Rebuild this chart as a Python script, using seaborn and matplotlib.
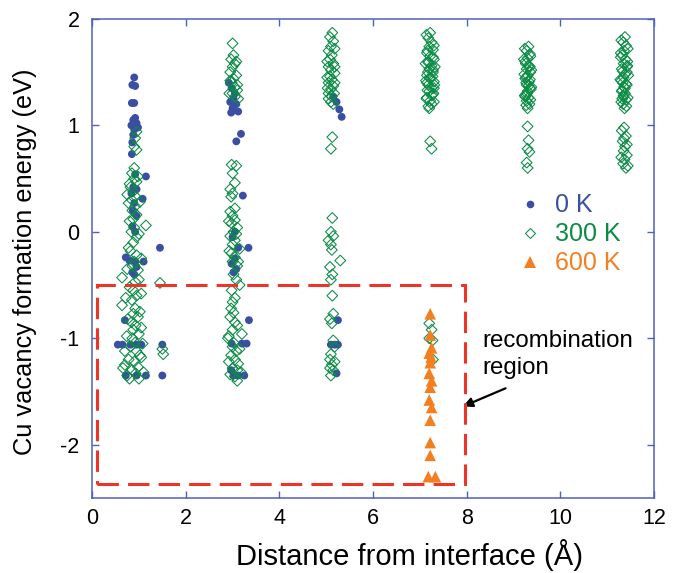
import pandas as pd
import matplotlib
matplotlib.use("Agg")
import matplotlib.pyplot as plt
import seaborn as sns
from matplotlib.lines import Line2D
from matplotlib.patches import Rectangle

# ---- data ----
# 0 K (filled dots)
x_0k = [0.90, 0.86, 0.92, 0.85, 0.90, 0.92, 0.88, 0.95, 0.84, 0.98, 0.90, 0.88, 0.86,
        0.85, 0.92, 1.15, 0.88, 0.95, 0.84, 1.08, 0.90, 0.87, 0.95, 0.86, 0.92, 1.45,
        0.72, 0.80, 0.92, 1.10, 0.95, 0.86, 0.90, 0.70, 0.55, 0.65, 0.82, 0.95, 1.05,
        1.50, 0.72, 0.95, 1.15, 1.50,
        2.92, 2.98, 3.05, 3.02, 2.95, 3.08, 3.00, 3.12, 2.97, 3.18, 3.08, 3.22, 3.05,
        3.00, 3.12, 3.34, 3.05, 2.98, 3.02, 3.08, 3.35, 2.98, 3.20, 3.30, 2.97, 3.02,
        3.12, 3.25,
        5.15, 5.22, 5.28, 5.33, 5.25, 5.10, 5.18, 5.25, 5.22]
e_0k = [1.45, 1.38, 1.37, 1.21, 1.21, 1.07, 1.05, 1.02, 1.00, 0.98, 0.96, 0.91, 0.84,
        0.73, 0.54, 0.52, 0.42, 0.40, 0.36, 0.31, 0.27, 0.20, 0.15, 0.05, 0.00, -0.15,
        -0.24, -0.27, -0.28, -0.28, -0.33, -0.38, -0.40, -0.83, -1.06, -1.06, -1.06, -1.06, -1.06,
        -1.06, -1.35, -1.35, -1.35, -1.35,
        1.40, 1.35, 1.30, 1.25, 1.22, 1.20, 1.16, 1.13, 1.12, 0.92, 0.85, 0.34, 0.00,
        -0.05, -0.15, -0.15, -0.25, -0.30, -0.38, -0.35, -0.83, -1.05, -1.05, -1.05, -1.30, -1.35,
        -1.35, -1.35,
        1.27, 1.22, 1.15, 1.08, -0.83, -1.06, -1.06, -1.06, -1.33]

# 300 K (open diamonds)
x_300k = [0.95, 0.92, 0.90, 0.95, 0.85, 0.90, 0.95, 0.82, 0.88, 0.93, 0.85, 0.78, 0.92,
          0.86, 0.95, 0.88, 1.15, 0.90, 0.84, 0.95, 0.88, 0.82, 0.95, 0.90, 0.86, 0.98,
          0.64, 1.45, 0.92, 0.88, 0.95, 0.85, 0.64, 0.92, 0.88, 0.98, 0.84, 0.93, 0.88,
          1.00, 0.86, 0.92, 0.82, 1.50, 1.52, 0.95, 1.02, 0.78, 0.90, 0.70, 0.98, 0.85,
          0.93, 0.80,
          3.00, 3.02, 2.97, 3.05, 3.00, 2.95, 3.08, 3.02, 2.98, 3.05, 3.10, 3.00, 3.05,
          2.98, 3.08, 3.00, 3.05, 2.95, 3.00, 2.97, 2.95, 3.00, 3.05, 2.98, 3.10, 3.02,
          2.95, 3.05, 3.00, 3.15, 2.98, 3.05, 3.00, 3.10, 3.02, 3.08, 3.15, 2.98, 3.05,
          3.00, 2.97, 3.02, 2.95, 3.05, 3.10, 3.00, 3.20, 2.90, 3.02, 3.00, 3.08, 2.97,
          3.05, 3.12, 3.00, 3.18, 3.05, 3.10,
          5.13, 5.08, 5.15, 5.10, 5.05, 5.12, 5.08, 5.15, 5.05, 5.10, 5.18, 5.08, 5.12,
          5.05, 5.15, 5.10, 5.05, 5.12, 5.10, 5.13, 5.10, 5.13, 5.10, 5.15, 5.05, 5.10,
          5.12, 5.30, 5.08, 5.13, 5.10, 5.13, 5.15, 5.08, 5.12, 5.15, 5.18, 5.10, 5.08,
          5.12, 5.15, 5.10,
          7.22, 7.18, 7.25, 7.20, 7.28, 7.15, 7.22, 7.30, 7.18, 7.25, 7.20, 7.28, 7.15,
          7.22, 7.30, 7.18, 7.25, 7.20, 7.27, 7.15, 7.22, 7.25, 7.20, 7.18, 7.28, 7.22,
          7.15, 7.30, 7.25, 7.22, 7.25, 7.20, 7.25, 7.20, 7.28, 7.27,
          9.32, 9.28, 9.35, 9.30, 9.25, 9.33, 9.28, 9.36, 9.30, 9.25, 9.33, 9.28, 9.35,
          9.30, 9.26, 9.32, 9.28, 9.34, 9.30, 9.35, 9.27, 9.32, 9.29, 9.30, 9.32, 9.30,
          9.34, 9.28, 9.30,
          11.38, 11.34, 11.40, 11.36, 11.32, 11.39, 11.35, 11.42, 11.33, 11.38, 11.35, 11.30,
          11.40, 11.36, 11.32, 11.38, 11.35, 11.40, 11.34, 11.37, 11.42, 11.33, 11.38, 11.35,
          11.36, 11.40, 11.33, 11.38, 11.35, 11.42, 11.37, 11.34, 11.40, 11.36]
e_300k = [0.94, 0.88, 0.80, 0.77, 0.55, 0.50, 0.47, 0.42, 0.38, 0.33, 0.30, 0.27, 0.24,
          0.20, 0.16, 0.12, 0.06, 0.04, 0.00, -0.05, -0.10, -0.18, -0.22, -0.28, -0.32, -0.36,
          -0.43, -0.48, -0.47, -0.55, -0.60, -0.64, -0.69, -0.72, -0.77, -0.80, -0.85, -0.88, -0.92,
          -0.96, -1.00, -1.04, -1.08, -1.10, -1.15, -1.12, -1.16, -1.20, -1.22, -1.25, -1.27, -1.30,
          -1.33, -1.38,
          1.77, 1.66, 1.62, 1.58, 1.55, 1.50, 1.47, 1.44, 1.40, 1.36, 1.33, 1.30, 1.27,
          0.63, 0.62, 0.55, 0.46, 0.40, 0.36, 0.33, 0.19, 0.15, 0.11, 0.08, 0.04, 0.00,
          -0.04, -0.08, -0.12, -0.16, -0.20, -0.24, -0.28, -0.32, -0.40, -0.45, -0.50, -0.55, -0.62,
          -0.66, -0.72, -0.76, -0.80, -0.85, -0.88, -0.92, -0.96, -1.00, -1.04, -1.08, -1.12, -1.16,
          -1.20, -1.24, -1.28, -1.32, -1.36, -1.40,
          1.87, 1.83, 1.79, 1.74, 1.70, 1.66, 1.62, 1.58, 1.55, 1.52, 1.49, 1.46, 1.43,
          1.40, 1.37, 1.34, 1.30, 1.27, 1.22, 0.89, 0.78, 0.13, 0.00, -0.04, -0.08, -0.12,
          -0.17, -0.27, -0.33, -0.40, -0.45, -0.60, -0.77, -0.82, -0.86, -1.02, -1.08, -1.15, -1.20,
          -1.25, -1.30, -1.35,
          1.87, 1.82, 1.78, 1.74, 1.71, 1.68, 1.65, 1.62, 1.59, 1.56, 1.53, 1.50, 1.47,
          1.44, 1.41, 1.38, 1.35, 1.32, 1.29, 1.26, 1.23, 1.20, 1.16, 1.60, 1.52, 1.45,
          1.40, 1.35, 1.28, 0.85, 0.78, -0.86, -0.92, -1.00, -1.20, -1.02,
          1.74, 1.70, 1.67, 1.63, 1.60, 1.56, 1.53, 1.50, 1.47, 1.44, 1.41, 1.38, 1.35,
          1.32, 1.29, 1.26, 1.23, 1.20, 1.16, 1.55, 1.45, 1.37, 1.30, 0.99, 0.86, 0.78,
          0.75, 0.65, 0.60,
          1.83, 1.78, 1.75, 1.70, 1.66, 1.62, 1.58, 1.55, 1.51, 1.48, 1.45, 1.42, 1.39,
          1.36, 1.33, 1.30, 1.27, 1.24, 1.20, 1.16, 1.50, 1.40, 1.35, 1.28, 0.98, 0.90,
          0.85, 0.80, 0.76, 0.72, 0.68, 0.64, 0.60, 0.88]

# 300 K, further points in the crowded clusters
x_300k_more = [0.75, 1.02, 0.80, 1.00, 0.78, 1.05, 0.75, 1.00, 0.80, 1.05, 0.72, 1.02, 0.76,
               1.05, 0.74, 1.08, 0.70, 1.05, 0.66, 1.10, 0.75, 1.00, 0.90, 0.98, 0.80,
               3.08, 2.95, 3.10, 2.93, 3.12, 3.05, 2.92, 3.08, 2.93, 3.12, 2.92, 3.15, 2.92,
               3.10, 2.95,
               5.18, 5.02, 5.18, 5.02, 5.18, 5.03, 5.17, 5.05, 5.15, 5.08, 5.18,
               7.14, 7.30, 7.16, 7.28, 7.12, 7.32, 7.17, 7.27, 7.13, 7.31, 7.16, 7.29, 7.14,
               7.30, 7.18,
               9.24, 9.36, 9.26, 9.38, 9.23, 9.35, 9.27, 9.37, 9.24, 9.36, 9.27, 9.22, 9.38,
               9.25,
               11.30, 11.44, 11.29, 11.43, 11.31, 11.45, 11.28, 11.42, 11.31, 11.44, 11.30,
               11.41, 11.29, 11.43, 11.32, 11.31, 11.42, 11.30, 11.44]
e_300k_more = [0.35, 0.28, 0.10, -0.02, -0.15, -0.25, -0.35, -0.45, -0.52, -0.58, -0.62, -0.75,
               -0.82, -0.90, -0.98, -1.05, -1.12, -1.18, -1.28, -1.32, -1.35, -1.38, 0.60, 0.52,
               0.45,
               1.60, 1.42, 1.38, 1.30, 1.25, 0.22, 0.10, -0.02, -0.18, -0.28, -0.98, -1.10, -1.22,
               -1.30, -1.34,
               1.72, 1.60, 1.55, 1.45, 1.40, 1.35, 1.30, 1.25, 1.20, -1.28, -1.22,
               1.85, 1.75, 1.70, 1.64, 1.58, 1.55, 1.50, 1.46, 1.42, 1.38, 1.33, 1.30, 1.25,
               1.22, 1.18,
               1.72, 1.65, 1.58, 1.52, 1.48, 1.43, 1.40, 1.34, 1.28, 1.24, 1.19, 1.62, 1.36,
               1.27,
               1.80, 1.72, 1.68, 1.60, 1.53, 1.47, 1.43, 1.38, 1.32, 1.26, 1.22, 1.18, 1.64,
               1.56, 1.25, 0.95, 0.82, 0.70, 0.62]

# 600 K (filled triangles)
x_600k = [7.22, 7.22, 7.25, 7.20, 7.24, 7.22, 7.20, 7.25, 7.22, 7.20, 7.25, 7.22, 7.22,
          7.22, 7.18, 7.33]
e_600k = [-0.77, -0.97, -1.09, -1.14, -1.18, -1.23, -1.33, -1.40, -1.46, -1.58, -1.65, -1.77,
          -1.98, -2.10, -2.30, -2.30]

# recombination region box (x0, y0, x1, y1)
box = (0.1, -2.37, 7.97, -0.5)

BLUE = "#3a4fa3"
GREEN = "#0a8c44"
ORANGE = "#f47f20"
RED = "#ee3327"
AXIS = "#4d62b8"

df0 = pd.DataFrame({"d": x_0k, "E": e_0k})
df300 = pd.DataFrame({"d": x_300k + x_300k_more, "E": e_300k + e_300k_more})
df600 = pd.DataFrame({"d": x_600k, "E": e_600k})

sns.set_style("ticks")
plt.rcParams["font.family"] = ["Liberation Sans", "DejaVu Sans"]
plt.rcParams["axes.unicode_minus"] = False
plt.rcParams["text.color"] = "black"
plt.rcParams["axes.labelcolor"] = "black"

fig = plt.figure(figsize=(6.82, 5.73), dpi=100)
ax = fig.add_axes([0.135, 0.131, 0.824, 0.836])

sns.scatterplot(data=df0, x="d", y="E", ax=ax, color=BLUE, marker="o",
                s=32, edgecolor="none", zorder=3)
sns.scatterplot(data=df300, x="d", y="E", ax=ax, color=GREEN, marker="D",
                s=30, facecolor="none", edgecolor=GREEN, linewidth=0.75, zorder=4)
sns.scatterplot(data=df600, x="d", y="E", ax=ax, color=ORANGE, marker="^",
                s=70, edgecolor="none", zorder=5)

ax.add_patch(Rectangle((box[0], box[1]), box[2] - box[0], box[3] - box[1],
                       fill=False, edgecolor=RED, linewidth=2.2,
                       linestyle=(0, (7, 3)), zorder=6))

ax.annotate("", xy=(7.92, -1.64), xytext=(8.83, -1.47),
            arrowprops=dict(arrowstyle="-|>", color="black", lw=1.6,
                            mutation_scale=14, shrinkA=0, shrinkB=0))
ax.text(8.33, -1.15, "recombination\nregion", fontsize=17.3, va="center",
        ha="left", linespacing=1.3)

ax.set_xlim(0, 12)
ax.set_ylim(-2.5, 2)
ax.set_xticks([0, 2, 4, 6, 8, 10, 12])
ax.set_yticks([-2, -1, 0, 1, 2])
ax.set_xlabel("Distance from interface (Å)", fontsize=21)
ax.set_ylabel("Cu vacancy formation energy (eV)", fontsize=18.3)
ax.xaxis.set_label_coords(0.564, -0.085)
ax.yaxis.set_label_coords(-0.098, 0.494)
ax.tick_params(direction="in", top=True, right=True, length=5, width=1,
               color=AXIS, labelsize=15.5, labelcolor="black")
ax.tick_params(axis="y", pad=9)
ax.tick_params(axis="x", pad=7)
for sp in ax.spines.values():
    sp.set_color(AXIS)
    sp.set_linewidth(1.1)
    sp.set_visible(True)

handles = [
    Line2D([], [], ls="none", marker="o", color=BLUE, markersize=5.5, markeredgewidth=0),
    Line2D([], [], ls="none", marker="D", markerfacecolor="none", markeredgecolor=GREEN,
           markersize=5.3, markeredgewidth=0.75),
    Line2D([], [], ls="none", marker="^", color=ORANGE, markersize=8.5, markeredgewidth=0),
]
leg = ax.legend(handles, ["0 K", "300 K", "600 K"], loc="center left",
                bbox_to_anchor=(0.735, 0.55), frameon=False, fontsize=18,
                handlelength=1.0, handletextpad=0.5, labelspacing=0.2,
                borderpad=0)
for txt, c in zip(leg.get_texts(), [BLUE, GREEN, ORANGE]):
    txt.set_color(c)

fig.savefig("out.png", dpi=100)
